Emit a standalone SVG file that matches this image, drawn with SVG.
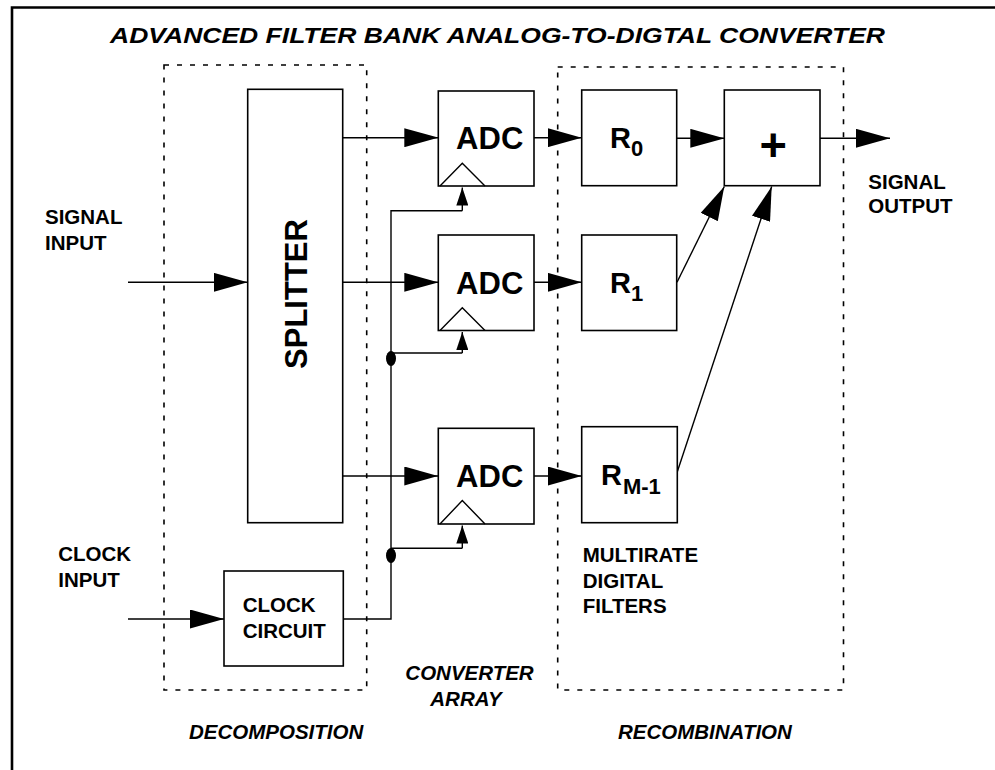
<svg xmlns="http://www.w3.org/2000/svg" width="995" height="770" viewBox="0 0 995 770">
<style>
.box{fill:#fff;stroke:#000;stroke-width:1.6}
.dash{fill:none;stroke:#000;stroke-width:1.6;stroke-dasharray:5 8}
.wire{fill:none;stroke:#000;stroke-width:1.4}
.frame{fill:none;stroke:#000;stroke-width:2.6}
.t{font-family:"Liberation Sans",Arial,Helvetica,sans-serif;font-weight:bold;fill:#000}
.s{font-size:20.5px}
.i{font-style:italic}
.adc{font-size:31px;text-anchor:middle}
.r{font-size:29px}
.sub{font-size:22px}
</style>
<defs>
<marker id="ah" markerUnits="userSpaceOnUse" markerWidth="34" markerHeight="19" refX="34" refY="9.5" orient="auto">
<path d="M0,0 L34,9.5 L0,19 Z" fill="#000"/>
</marker>
<marker id="sh" markerUnits="userSpaceOnUse" markerWidth="18" markerHeight="12" refX="18" refY="6" orient="auto">
<path d="M0,0 L18,6 L0,12 Z" fill="#000"/>
</marker>
</defs>
<rect width="995" height="770" fill="#fff"/>
<path class="frame" d="M12,770 V7.5 H995"/>
<text class="t i" x="110" y="43" font-size="22.5" textLength="775" lengthAdjust="spacingAndGlyphs">ADVANCED FILTER BANK ANALOG-TO-DIGTAL CONVERTER</text>

<g id="decomposition-group">
<rect class="dash" x="164" y="65" width="202.7" height="625"/>
<text class="t i s" x="189" y="739">DECOMPOSITION</text>
</g>
<g id="recombination-group">
<rect class="dash" x="557.7" y="67" width="285.8" height="623"/>
<text class="t i s" x="618" y="739">RECOMBINATION</text>
</g>
<g id="converter-array-label">
<text class="t i s" x="469.5" y="680" text-anchor="middle">CONVERTER</text>
<text class="t i s" x="466" y="706" text-anchor="middle">ARRAY</text>
</g>

<g id="signal-input">
<text class="t s" x="45" y="224.3">SIGNAL</text>
<text class="t s" x="45" y="250">INPUT</text>
</g>
<g id="clock-input">
<text class="t s" x="58.3" y="560.7">CLOCK</text>
<text class="t s" x="58.3" y="587.3">INPUT</text>
</g>
<g id="signal-output">
<text class="t s" x="868.3" y="189">SIGNAL</text>
<text class="t s" x="868.3" y="213.3">OUTPUT</text>
</g>

<g id="connectors">
<line class="wire" x1="128" y1="282.3" x2="247.7" y2="282.3" marker-end="url(#ah)"/>
<line class="wire" x1="128" y1="619" x2="224" y2="619" marker-end="url(#ah)"/>
<line class="wire" x1="342.7" y1="137.7" x2="438.3" y2="137.7" marker-end="url(#ah)"/>
<line class="wire" x1="342.7" y1="282.3" x2="438.3" y2="282.3" marker-end="url(#ah)"/>
<line class="wire" x1="342.7" y1="476" x2="438.3" y2="476" marker-end="url(#ah)"/>
<path class="wire" d="M343.3,619 H391 V210.7 H462.3"/>
<line class="wire" x1="462.3" y1="210.7" x2="462.3" y2="187.5" marker-end="url(#sh)"/>
<path class="wire" d="M391,353 H462.3"/>
<line class="wire" x1="462.3" y1="353" x2="462.3" y2="332" marker-end="url(#sh)"/>
<path class="wire" d="M391,548.3 H462.3"/>
<line class="wire" x1="462.3" y1="548.3" x2="462.3" y2="525.5" marker-end="url(#sh)"/>
<ellipse cx="391" cy="358.5" rx="5" ry="7.5" fill="#000"/>
<ellipse cx="391" cy="555.5" rx="5" ry="7.5" fill="#000"/>
<line class="wire" x1="534" y1="137.7" x2="581.7" y2="137.7" marker-end="url(#ah)"/>
<line class="wire" x1="534" y1="282.3" x2="581.7" y2="282.3" marker-end="url(#ah)"/>
<line class="wire" x1="534" y1="476" x2="581.7" y2="476" marker-end="url(#ah)"/>
<line class="wire" x1="676.7" y1="138.3" x2="724.3" y2="138.3" marker-end="url(#ah)"/>
<line class="wire" x1="677" y1="282.3" x2="724.3" y2="186.5" marker-end="url(#ah)"/>
<line class="wire" x1="677.3" y1="471.7" x2="771.7" y2="186.5" marker-end="url(#ah)"/>
<line class="wire" x1="820" y1="138.3" x2="890" y2="138.3" marker-end="url(#ah)"/>
</g>

<g id="splitter">
<rect class="box" x="247.7" y="89.3" width="95" height="433.4"/>
<text class="t" font-size="31" text-anchor="middle" transform="translate(306.5,294) rotate(-90)">SPLITTER</text>
</g>
<g id="clock-circuit">
<rect class="box" x="224" y="571" width="119.3" height="95"/>
<text class="t s" x="242.7" y="611.7">CLOCK</text>
<text class="t s" x="242.7" y="637.7">CIRCUIT</text>
</g>

<g id="adc-0">
<rect class="box" x="438.3" y="91" width="95.7" height="95"/>
<path class="wire" d="M440,186 L462.3,163.3 L485,186"/>
<text class="t adc" x="489.7" y="149.3">ADC</text>
</g>
<g id="adc-1">
<rect class="box" x="438.3" y="235" width="95.7" height="95.5"/>
<path class="wire" d="M440,330.5 L462.3,307.8 L485,330.5"/>
<text class="t adc" x="489.7" y="293.8">ADC</text>
</g>
<g id="adc-2">
<rect class="box" x="438.3" y="428.3" width="95.7" height="95.7"/>
<path class="wire" d="M440,524 L462.3,500.5 L485,524"/>
<text class="t adc" x="489.7" y="486.7">ADC</text>
</g>

<g id="r-0">
<rect class="box" x="581.7" y="90" width="95" height="95.7"/>
<text class="t r" x="610" y="148.3">R<tspan class="sub" dy="8">0</tspan></text>
</g>
<g id="r-1">
<rect class="box" x="581.7" y="235" width="95" height="95.5"/>
<text class="t r" x="610" y="293">R<tspan class="sub" dy="8">1</tspan></text>
</g>
<g id="r-m-1">
<rect class="box" x="581.7" y="426.7" width="95.6" height="96"/>
<text class="t r" x="601" y="485">R<tspan class="sub" dx="1" dy="9">M-1</tspan></text>
</g>
<g id="multirate-label">
<text class="t s" x="582.7" y="561.7">MULTIRATE</text>
<text class="t s" x="582.7" y="587.7">DIGITAL</text>
<text class="t s" x="582.7" y="613.3">FILTERS</text>
</g>

<g id="summer">
<rect class="box" x="724.3" y="90" width="95.7" height="95.7"/>
<text class="t" x="773.3" y="160.7" font-size="47" text-anchor="middle">+</text>
</g>
</svg>
